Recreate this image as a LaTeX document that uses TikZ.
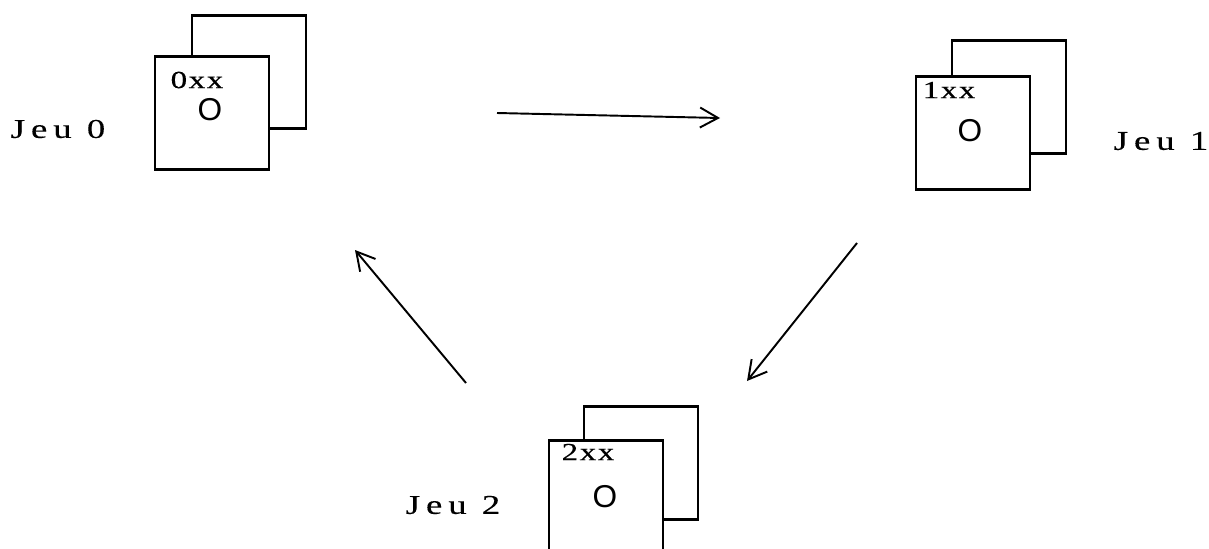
\documentclass[tikz,border=0pt]{standalone}
\usepackage{fontspec}
\setmainfont{Liberation Serif}
\newfontfamily\jeufont[LetterSpace=22,FakeStretch=1.35,FakeBold=.3]{Liberation Serif}
\newfontfamily\numfont[LetterSpace=6,FakeStretch=1.35,FakeBold=.3]{Liberation Serif}
\newfontfamily\rondfont{Liberation Sans}
\usetikzlibrary{arrows.meta}
\newcommand{\jeu}[1]{{\fontsize{15.5}{15.5}\jeufont Jeu #1}}
\tikzset{
  carte/.style={draw,line width=1.3pt,fill=white,minimum width=2.28cm,minimum height=2.26cm,inner sep=0pt},
  titre/.style={inner sep=0pt,font=\fontsize{14}{14}\selectfont},
  rond/.style={inner sep=0pt,font=\fontsize{18}{18}\selectfont\rondfont},
  fleche/.style={line width=1.1pt,-{Straight Barb[length=.36cm,width=.4cm]}},
}
\begin{document}
\begin{tikzpicture}[x=.02cm,y=-.02cm]
  \clip (0,0) rectangle (1209,548);
  % jeu 0
  \node[carte] (dos0) at (249,72) {};
  \node[carte] (face0) at (212,113) {};
  \node[titre] (num0) at (197,80) {{\numfont 0xx}};
  \node[rond] (rond0) at (210,110) {O};
  \node[titre] (nom0) at (58,129) {\jeu{0}};
  % jeu 1
  \node[carte] (dos1) at (1009,97) {};
  \node[carte] (face1) at (973,133) {};
  \node[titre] (num1) at (949,90) {{\numfont 1xx}};
  \node[rond] (rond1) at (970,131) {O};
  \node[titre] (nom1) at (1161,141) {\jeu{1}};
  % jeu 2
  \node[carte] (dos2) at (641,463) {};
  \node[carte] (face2) at (606,497) {};
  \node[titre] (num2) at (588,452) {{\numfont 2xx}};
  \node[rond] (rond2) at (605,497) {O};
  \node[titre] (nom2) at (453,505) {\jeu{2}};
  % fleches
  \coordinate (a0) at (497,113);
  \coordinate (a1) at (720,118);
  \coordinate (b0) at (857,243);
  \coordinate (b1) at (747,381);
  \coordinate (c0) at (466,383);
  \coordinate (c1) at (355,250);
  \draw[fleche] (a0) -- (a1);
  \draw[fleche] (b0) -- (b1);
  \draw[fleche] (c0) -- (c1);
\end{tikzpicture}
\end{document}
